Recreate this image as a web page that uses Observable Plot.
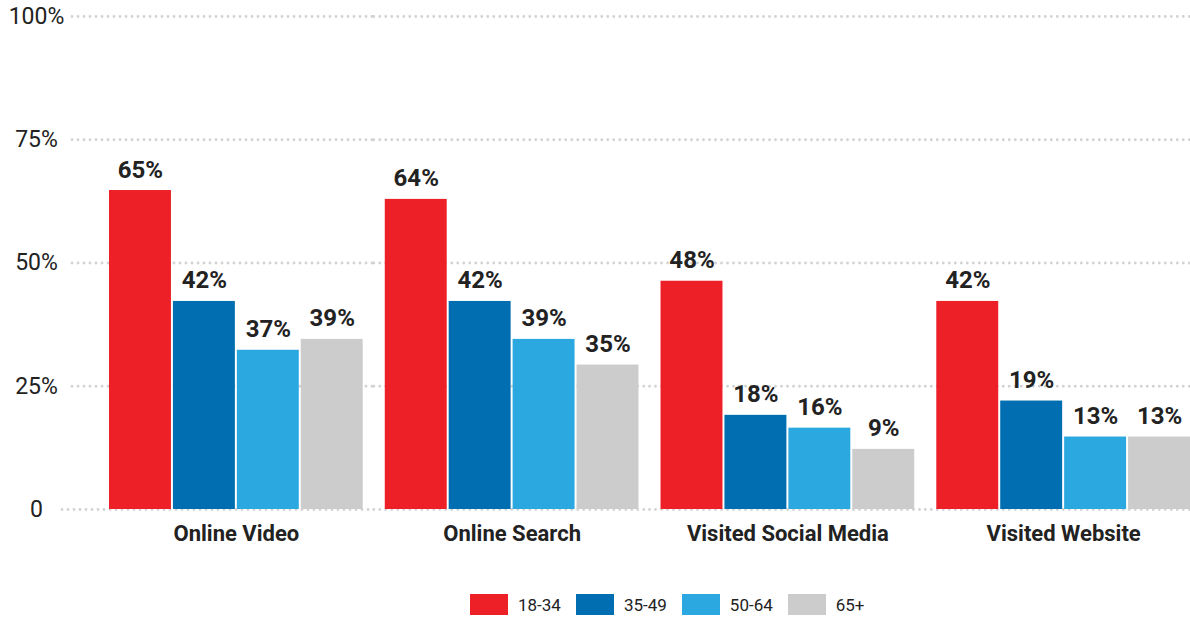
<!DOCTYPE html>
<html>
<head>
<meta charset="utf-8">
<script src="https://cdn.jsdelivr.net/npm/d3@7"></script>
<script src="https://cdn.jsdelivr.net/npm/@observablehq/plot@0.6"></script>
<style>
  html, body { margin: 0; padding: 0; background: #fff; }
  body { width: 1190px; height: 619px; overflow: hidden; font-family: Roboto, "Open Sans", sans-serif; color: #222; }
  #chart svg { display: block; }
  #legend { position: relative; height: 21px; margin-top: 9px; display: flex; align-items: center; padding-left: 470px; font-size: 17px; color: #222; }
  .item { display: flex; align-items: center; margin-right: 15px; }
  .sw { width: 38px; height: 21px; margin-right: 10px; }
</style>
</head>
<body>
<div id="chart"></div>
<div id="legend"></div>
<script>
// ---- data ----
const groups = ["Online Video", "Online Search", "Visited Social Media", "Visited Website"];
const ages = ["18-34", "35-49", "50-64", "65+"];
const colors = ["#ED1F27", "#006EB0", "#2BA8E0", "#CCCCCC"];
// bar heights as drawn (percent)
const v1834 = [64.7, 62.9, 46.3, 42.2];
const v3549 = [42.2, 42.2, 19.1, 22.0];
const v5064 = [32.3, 34.5, 16.5, 14.7];
const v65plus = [34.5, 29.3, 12.2, 14.7];
// printed labels
const l1834 = ["65%", "64%", "48%", "42%"];
const l3549 = ["42%", "42%", "18%", "19%"];
const l5064 = ["37%", "39%", "16%", "13%"];
const l65plus = ["39%", "35%", "9%", "13%"];
const yTicks = [0, 25, 50, 75, 100];

const seriesValues = [v1834, v3549, v5064, v65plus];
const seriesLabels = [l1834, l3549, l5064, l65plus];
const rows = [];
groups.forEach((g, gi) => {
  ages.forEach((a, ai) => {
    rows.push({group: g, age: a, value: seriesValues[ai][gi], label: seriesLabels[ai][gi]});
  });
});
const gridFirst = yTicks.filter(t => t > 0).map(t => ({group: groups[0], t}));
const gridRest = groups.slice(1).flatMap(g => yTicks.filter(t => t > 0).map(t => ({group: g, t})));
const zeroFirst = [{group: groups[0], t: 0}];
const zeroRest = groups.slice(1).map(g => ({group: g, t: 0}));

const font = 'Roboto, "Open Sans", sans-serif';
const gridStyle = {stroke: "#d2d2d2", strokeWidth: 2.8, strokeDasharray: "0 6", strokeLinecap: "round"};

const chart = Plot.plot({
  width: 1190,
  height: 585,
  marginTop: 16,
  marginBottom: 76,
  marginLeft: 109,
  marginRight: 0,
  style: {fontFamily: font, color: "#222", background: "#fff"},
  fx: {domain: groups, paddingInner: 0.08, paddingOuter: 0, round: false, label: null},
  x: {domain: ages, paddingInner: 0.031, paddingOuter: 0, round: false, axis: null},
  y: {domain: [0, 100], axis: null},
  color: {domain: ages, range: colors},
  marks: [
    Plot.ruleY(gridFirst, {fx: "group", y: "t", insetLeft: -37, insetRight: -11, ...gridStyle}),
    Plot.ruleY(gridRest, {fx: "group", y: "t", insetLeft: -11, insetRight: -11, ...gridStyle}),
    Plot.ruleY(zeroFirst, {fx: "group", y: "t", insetLeft: -47, insetRight: -11, ...gridStyle}),
    Plot.ruleY(zeroRest, {fx: "group", y: "t", insetLeft: -11, insetRight: -11, ...gridStyle}),
    Plot.axisY({ticks: yTicks, tickFormat: d => d === 0 ? "0" : d + "%", tickSize: 0, tickPadding: 73,
      textAnchor: "middle", fontSize: 23, fill: "#222", label: null}),
    Plot.axisFx({anchor: "bottom", tickSize: 0, tickPadding: 16, fontSize: 22, fontWeight: "bold", fill: "#222", label: null}),
    Plot.barY(rows, {fx: "group", x: "age", y: "value", fill: "age"}),
    Plot.text(rows, {fx: "group", x: "age", y: "value", text: "label", lineAnchor: "bottom", dy: -13,
      fontSize: 24, fontWeight: "bold", fill: "#222"})
  ]
});
document.getElementById("chart").appendChild(chart);

const legend = document.getElementById("legend");
ages.forEach((a, i) => {
  const item = document.createElement("div");
  item.className = "item";
  const sw = document.createElement("div");
  sw.className = "sw";
  sw.style.background = colors[i];
  const tx = document.createElement("span");
  tx.textContent = a;
  item.appendChild(sw);
  item.appendChild(tx);
  legend.appendChild(item);
});
</script>
</body>
</html>
